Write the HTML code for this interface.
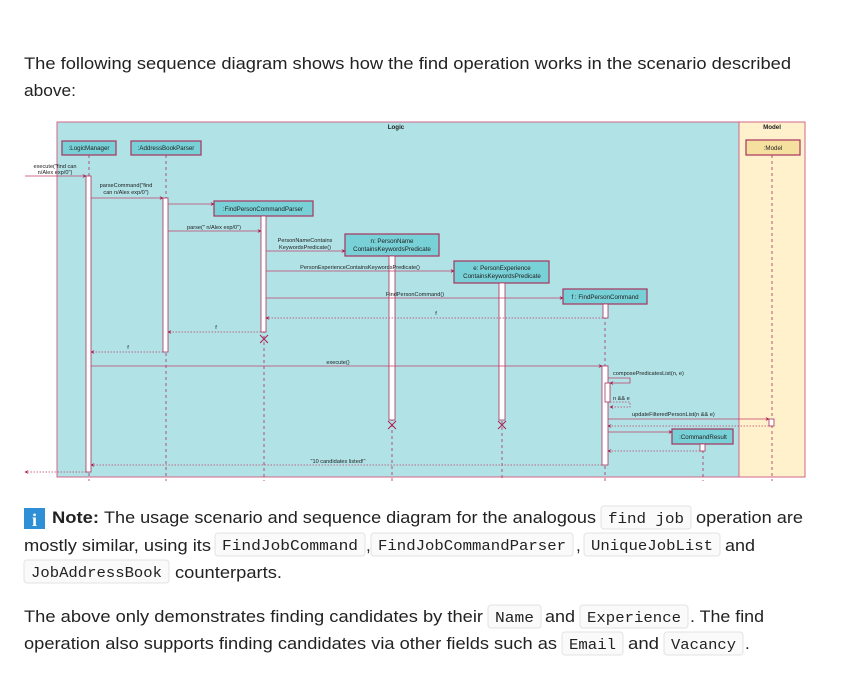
<!DOCTYPE html>
<html><head><meta charset="utf-8"><style>
html,body{margin:0;padding:0;background:#fff;width:845px;height:682px;overflow:hidden}
svg{display:block}
.t{font-family:"Liberation Sans",sans-serif;font-size:17px;fill:#222}
.c{font-family:"Liberation Mono",monospace;font-size:14.5px;fill:#222}
.m{font-family:"Liberation Sans",sans-serif;font-size:5.6px;fill:#222}
.p{font-family:"Liberation Sans",sans-serif;font-size:6.2px;fill:#222}
</style></head><body>
<svg width="845" height="682" viewBox="0 0 845 682" xmlns="http://www.w3.org/2000/svg">
<defs>
<marker id="a" viewBox="0 0 8 8" refX="7" refY="4" markerWidth="5" markerHeight="5" orient="auto"><path d="M0,0 L8,4 L0,8 L3,4 z" fill="#a8164a"/></marker>
</defs>
<text class="t" x="24" y="69" textLength="767" lengthAdjust="spacingAndGlyphs">The following sequence diagram shows how the find operation works in the scenario described</text>
<text class="t" x="24" y="96" textLength="52" lengthAdjust="spacingAndGlyphs">above:</text>

<!-- frames -->
<rect x="57" y="122" width="682" height="355" fill="#b0e2e6" stroke="#d0668a" stroke-width="1"/>
<rect x="739" y="122" width="66" height="355" fill="#fff1cc" stroke="#d0668a" stroke-width="1"/>
<text x="396" y="129" class="p" font-weight="bold" text-anchor="middle">Logic</text>
<text x="772" y="129" class="p" font-weight="bold" text-anchor="middle">Model</text>

<!-- lifelines -->
<g stroke="#a8325e" stroke-width="0.8" stroke-dasharray="3,3" fill="none">
<line x1="89" y1="155" x2="89" y2="481"/>
<line x1="166" y1="155" x2="166" y2="481"/>
<line x1="264" y1="216" x2="264" y2="481"/>
<line x1="392" y1="256" x2="392" y2="481"/>
<line x1="502" y1="283" x2="502" y2="481"/>
<line x1="605" y1="304" x2="605" y2="481"/>
<line x1="703" y1="444" x2="703" y2="481"/>
<line x1="772" y1="155" x2="772" y2="481"/>
</g>

<!-- participants -->
<g stroke="#a8325e" stroke-width="1.2">
<rect x="62" y="141" width="54" height="14" fill="#79d1d8"/>
<rect x="131" y="141" width="70" height="14" fill="#79d1d8"/>
<rect x="214" y="201" width="99" height="15" fill="#79d1d8"/>
<rect x="345" y="234" width="94" height="22" fill="#79d1d8"/>
<rect x="454" y="261" width="95" height="22" fill="#79d1d8"/>
<rect x="563" y="289" width="84" height="15" fill="#79d1d8"/>
<rect x="672" y="429" width="61" height="15" fill="#79d1d8"/>
<rect x="746" y="140" width="54" height="15" fill="#f6e0a0"/>
</g>
<text class="p" x="89" y="150" text-anchor="middle">:LogicManager</text>
<text class="p" x="166" y="150" text-anchor="middle">:AddressBookParser</text>
<text class="p" x="263" y="211" text-anchor="middle">:FindPersonCommandParser</text>
<text class="p" x="392" y="243" text-anchor="middle">n: PersonName</text>
<text class="p" x="392" y="251" text-anchor="middle">ContainsKeywordsPredicate</text>
<text class="p" x="502" y="270" text-anchor="middle">e: PersonExperience</text>
<text class="p" x="502" y="278" text-anchor="middle">ContainsKeywordsPredicate</text>
<text class="p" x="605" y="299" text-anchor="middle">f : FindPersonCommand</text>
<text class="p" x="703" y="439" text-anchor="middle">:CommandResult</text>
<text class="p" x="773" y="150" text-anchor="middle">:Model</text>

<!-- activations -->
<g fill="#fff" stroke="#a8325e" stroke-width="0.8">
<rect x="86" y="176" width="5" height="296"/>
<rect x="163" y="198" width="5" height="154"/>
<rect x="261" y="216" width="5" height="116"/>
<rect x="389" y="256" width="6" height="164"/>
<rect x="499" y="283" width="6" height="137"/>
<rect x="603" y="304" width="5" height="14"/>
<rect x="602" y="366" width="6" height="99"/>
<rect x="605" y="383" width="5" height="19"/>
<rect x="769" y="419" width="5" height="7"/>
<rect x="700" y="444" width="5" height="7"/>
</g>
<!-- X -->
<g stroke="#b01f52" stroke-width="1">
<path d="M260,335 l8,8 M268,335 l-8,8"/>
<path d="M388,421 l8,8 M396,421 l-8,8"/>
<path d="M498,421 l8,8 M506,421 l-8,8"/>
</g>

<!-- messages -->
<g stroke="#c0406a" stroke-width="0.8" fill="none" marker-end="url(#a)">
<line x1="25" y1="176" x2="86" y2="176"/>
<line x1="91" y1="198" x2="163" y2="198"/>
<line x1="168" y1="204" x2="214" y2="204"/>
<line x1="168" y1="231" x2="261" y2="231"/>
<line x1="266" y1="251" x2="345" y2="251"/>
<line x1="266" y1="271" x2="454" y2="271"/>
<line x1="266" y1="298" x2="563" y2="298"/>
<line x1="91" y1="366" x2="602" y2="366"/>
<polyline points="608,378 630,378 630,383 610,383"/>
<line x1="608" y1="419" x2="769" y2="419"/>
<line x1="608" y1="432" x2="672" y2="432"/>
</g>
<g stroke="#c0406a" stroke-width="0.8" fill="none" stroke-dasharray="1.5,1.5" marker-end="url(#a)">
<line x1="603" y1="318" x2="266" y2="318"/>
<line x1="261" y1="332" x2="168" y2="332"/>
<line x1="163" y1="352" x2="91" y2="352"/>
<polyline points="610,402 630,402 630,407 610,407"/>
<line x1="769" y1="426" x2="608" y2="426"/>
<line x1="700" y1="451" x2="608" y2="451"/>
<line x1="602" y1="465" x2="91" y2="465"/>
<line x1="86" y1="472" x2="25" y2="472"/>
</g>

<text class="m" x="55" y="168" text-anchor="middle">execute("find can</text>
<text class="m" x="55" y="174" text-anchor="middle">n/Alex exp/0")</text>
<text class="m" x="126" y="187" text-anchor="middle">parseCommand("find</text>
<text class="m" x="126" y="194" text-anchor="middle">can n/Alex exp/0")</text>
<text class="m" x="214" y="229" text-anchor="middle">parse(" n/Alex exp/0")</text>
<text class="m" x="305" y="242" text-anchor="middle">PersonNameContains</text>
<text class="m" x="305" y="249" text-anchor="middle">KeywordsPredicate()</text>
<text class="m" x="360" y="269" text-anchor="middle">PersonExperienceContainsKeywordsPredicate()</text>
<text class="m" x="415" y="296" text-anchor="middle">FindPersonCommand()</text>
<text class="m" x="436" y="315" text-anchor="middle">f</text>
<text class="m" x="216" y="329" text-anchor="middle">f</text>
<text class="m" x="128" y="349" text-anchor="middle">f</text>
<text class="m" x="338" y="364" text-anchor="middle">execute()</text>
<text class="m" x="613" y="375">composePredicatesList(n, e)</text>
<text class="m" x="613" y="400">n &amp;&amp; e</text>
<text class="m" x="632" y="416">updateFilteredPersonList(n &amp;&amp; e)</text>
<text class="m" x="338" y="463" text-anchor="middle">"10 candidates listed!"</text>

<!-- note -->
<rect x="24" y="508" width="21" height="21" fill="#2f8fd6"/>
<text x="34.5" y="526" font-family="Liberation Serif,serif" font-weight="bold" font-size="18" fill="#fff" text-anchor="middle">i</text>
<text class="t" x="52" y="523" font-weight="bold" textLength="47" lengthAdjust="spacingAndGlyphs">Note:</text>
<text class="t" x="104" y="523" textLength="492" lengthAdjust="spacingAndGlyphs">The usage scenario and sequence diagram for the analogous</text>
<g fill="#fafafa" stroke="#e3e3e3" stroke-width="1">
<rect x="601" y="506" width="90" height="23" rx="3"/>
<rect x="215" y="533" width="150" height="23" rx="3"/>
<rect x="371" y="533" width="202" height="23" rx="3"/>
<rect x="584" y="533" width="136" height="23" rx="3"/>
<rect x="24" y="560" width="145" height="23" rx="3"/>
<rect x="488" y="605" width="53" height="23" rx="3"/>
<rect x="580" y="605" width="108" height="23" rx="3"/>
<rect x="562" y="632" width="61" height="23" rx="3"/>
<rect x="664" y="632" width="79" height="23" rx="3"/>
</g>
<text class="c" x="608" y="523" textLength="76" lengthAdjust="spacingAndGlyphs">find job</text>
<text class="t" x="696" y="523" textLength="107" lengthAdjust="spacingAndGlyphs">operation are</text>
<text class="t" x="24" y="551" textLength="187" lengthAdjust="spacingAndGlyphs">mostly similar, using its</text>
<text class="c" x="222" y="550" textLength="136" lengthAdjust="spacingAndGlyphs">FindJobCommand</text>
<text class="t" x="366" y="551">,</text>
<text class="c" x="378" y="550" textLength="188" lengthAdjust="spacingAndGlyphs">FindJobCommandParser</text>
<text class="t" x="576" y="551">,</text>
<text class="c" x="591" y="550" textLength="122" lengthAdjust="spacingAndGlyphs">UniqueJobList</text>
<text class="t" x="725" y="551" textLength="30" lengthAdjust="spacingAndGlyphs">and</text>
<text class="c" x="31" y="577" textLength="131" lengthAdjust="spacingAndGlyphs">JobAddressBook</text>
<text class="t" x="175" y="578" textLength="107" lengthAdjust="spacingAndGlyphs">counterparts.</text>
<text class="t" x="24" y="622" textLength="459" lengthAdjust="spacingAndGlyphs">The above only demonstrates finding candidates by their</text>
<text class="c" x="495" y="622" textLength="39" lengthAdjust="spacingAndGlyphs">Name</text>
<text class="t" x="545" y="622" textLength="30" lengthAdjust="spacingAndGlyphs">and</text>
<text class="c" x="587" y="622" textLength="94" lengthAdjust="spacingAndGlyphs">Experience</text>
<text class="t" x="690" y="622" textLength="74" lengthAdjust="spacingAndGlyphs">. The find</text>
<text class="t" x="24" y="649" textLength="533" lengthAdjust="spacingAndGlyphs">operation also supports finding candidates via other fields such as</text>
<text class="c" x="569" y="649" textLength="47" lengthAdjust="spacingAndGlyphs">Email</text>
<text class="t" x="628" y="649" textLength="31" lengthAdjust="spacingAndGlyphs">and</text>
<text class="c" x="671" y="649" textLength="65" lengthAdjust="spacingAndGlyphs">Vacancy</text>
<text class="t" x="745" y="649">.</text>
</svg>
</body></html>
